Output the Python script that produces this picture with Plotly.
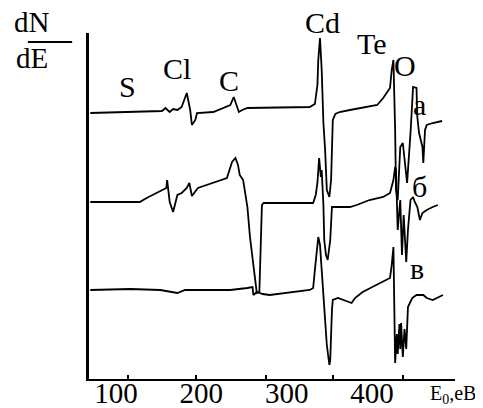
import plotly.graph_objects as go

# Energy (eV) and dN/dE (arbitrary units, vertically offset curves)
energy_a = [70, 128, 154, 158, 163, 167, 172, 177, 183, 187, 189, 193, 195, 214, 225, 234, 238, 242, 244,
            248, 254, 327, 333, 336, 337, 339, 341, 343, 345, 347, 350, 352, 353, 354, 357, 362, 374, 389,
            406, 413, 421, 423, 425, 427, 428, 430, 433, 436, 439, 441, 445, 448, 452, 453, 455, 459, 460,
            461, 462, 464, 471, 482]
signal_a = [266, 267, 268, 271, 267, 270, 269, 272, 286, 269, 254, 259, 266, 267, 271, 274, 282, 272, 267,
            269, 271, 272, 275, 294, 319, 341, 309, 256, 229, 189, 182, 199, 239, 259, 265, 267, 269, 271,
            274, 281, 291, 309, 319, 249, 189, 179, 232, 236, 209, 196, 246, 292, 291, 262, 246, 232, 216,
            232, 249, 254, 256, 258]

energy_b = [70, 128, 136, 155, 159, 160, 163, 167, 172, 177, 183, 186, 189, 196, 214, 230, 236, 240, 243,
            245, 249, 254, 257, 263, 265, 268, 270, 271, 273, 331, 334, 336, 338, 340, 341, 343, 344, 346,
            348, 351, 353, 357, 374, 382, 397, 413, 421, 425, 427, 428, 430, 433, 435, 437, 440, 442, 445,
            448, 450, 453, 456, 459, 464, 471, 477]
signal_b = [177, 177, 181, 189, 191, 199, 177, 167, 184, 186, 191, 196, 183, 191, 196, 201, 217, 221, 214,
            204, 199, 172, 142, 102, 86, 87, 149, 174, 176, 176, 184, 196, 221, 202, 209, 174, 139, 124,
            119, 139, 172, 172, 172, 174, 179, 182, 186, 199, 212, 209, 149, 179, 124, 164, 117, 149, 179,
            182, 177, 172, 159, 166, 169, 172, 174]

energy_c = [70, 117, 152, 172, 181, 234, 254, 260, 261, 265, 272, 280, 327, 331, 333, 336, 337, 339, 341,
            345, 347, 350, 351, 353, 354, 360, 366, 371, 376, 380, 389, 398, 409, 421, 423, 425, 427, 429,
            430, 432, 433, 434, 436, 438, 440, 441, 442, 447, 452, 460, 464, 471, 476, 483]
signal_c = [89, 90, 89, 86, 89, 89, 91, 92, 84, 87, 85, 84, 89, 91, 109, 134, 142, 134, 109,
            59, 34, 14, 19, 69, 79, 81, 79, 77, 76, 81, 87, 91, 96, 101, 114, 132, 16, 45,
            25, 55, 30, 56, 22, 50, 30, 60, 72, 81, 84, 84, 81, 79, 81, 84]

tick_values = [100, 200, 300, 400]
tick_labels = ["100", "200", "300", "400"]
tick_marks = [114, 194, 276, 354, 436]

element_labels = ["S", "Cl", "C", "Te", "O"]
element_x = [114, 172, 233, 400, 439]
element_y = [293, 311, 299, 336, 314]

curve_labels = ["а", "б", "в"]
curve_label_x = [456, 456, 453]
curve_label_y = [275, 193, 111]

FONT = "Liberation Serif, Times New Roman, serif"

fig = go.Figure()
for xs, ys in [(energy_a, signal_a), (energy_b, signal_b), (energy_c, signal_c)]:
    fig.add_trace(go.Scatter(x=xs, y=ys, mode="lines",
                             line=dict(color="black", width=1.8),
                             cliponaxis=False, showlegend=False, hoverinfo="skip"))

annotations = []
for t, x, y in zip(element_labels + curve_labels, element_x + curve_label_x, element_y + curve_label_y):
    annotations.append(dict(x=x, y=y, xref="x", yref="y", text=t, showarrow=False,
                            xanchor="center", yanchor="middle",
                            font=dict(family=FONT, size=30, color="black")))

annotations += [
    dict(x=0.637, y=1.029, xref="paper", yref="paper", text="Cd", showarrow=False,
         xanchor="center", yanchor="middle", font=dict(family=FONT, size=30, color="black")),
    dict(x=-0.156, y=1.032, xref="paper", yref="paper", text="dN", showarrow=False,
         xanchor="center", yanchor="middle", font=dict(family=FONT, size=29, color="black")),
    dict(x=-0.156, y=0.928, xref="paper", yref="paper", text="dE", showarrow=False,
         xanchor="center", yanchor="middle", font=dict(family=FONT, size=29, color="black")),
    dict(x=0.995, y=-0.046, xref="paper", yref="paper", text="E<sub>0</sub>,eB", showarrow=False,
         xanchor="center", yanchor="middle", font=dict(family=FONT, size=20, color="black")),
]

# page body adds an 8px offset; figure is sized so the plot lands at the reference position
fig.update_layout(
    width=475, height=400,
    margin=dict(l=81, r=28, t=25, b=29, autoexpand=False),
    paper_bgcolor="white", plot_bgcolor="white",
    annotations=annotations,
    shapes=[dict(type="line", xref="paper", yref="paper", x0=-0.167, x1=-0.046, y0=0.974, y1=0.974,
                 line=dict(color="black", width=1.8))],
    font=dict(family=FONT, color="black"),
)
fig.update_xaxes(range=[68.5, 497.1], showgrid=False, zeroline=False, automargin=False,
                 showline=True, linecolor="black", linewidth=2,
                 tickmode="array", tickvals=tick_values, ticktext=tick_labels,
                 ticks="", tickfont=dict(family=FONT, size=29, color="black"),
                 ticklabelstandoff=-13,
                 minor=dict(tickmode="array", tickvals=tick_marks, ticks="inside",
                            ticklen=4, tickwidth=1.5, tickcolor="black", showgrid=False))
fig.update_yaxes(range=[0, 346], showgrid=False, zeroline=False, automargin=False,
                 showline=True, linecolor="black", linewidth=2.5,
                 showticklabels=False, ticks="")

fig.write_html("out.html")
